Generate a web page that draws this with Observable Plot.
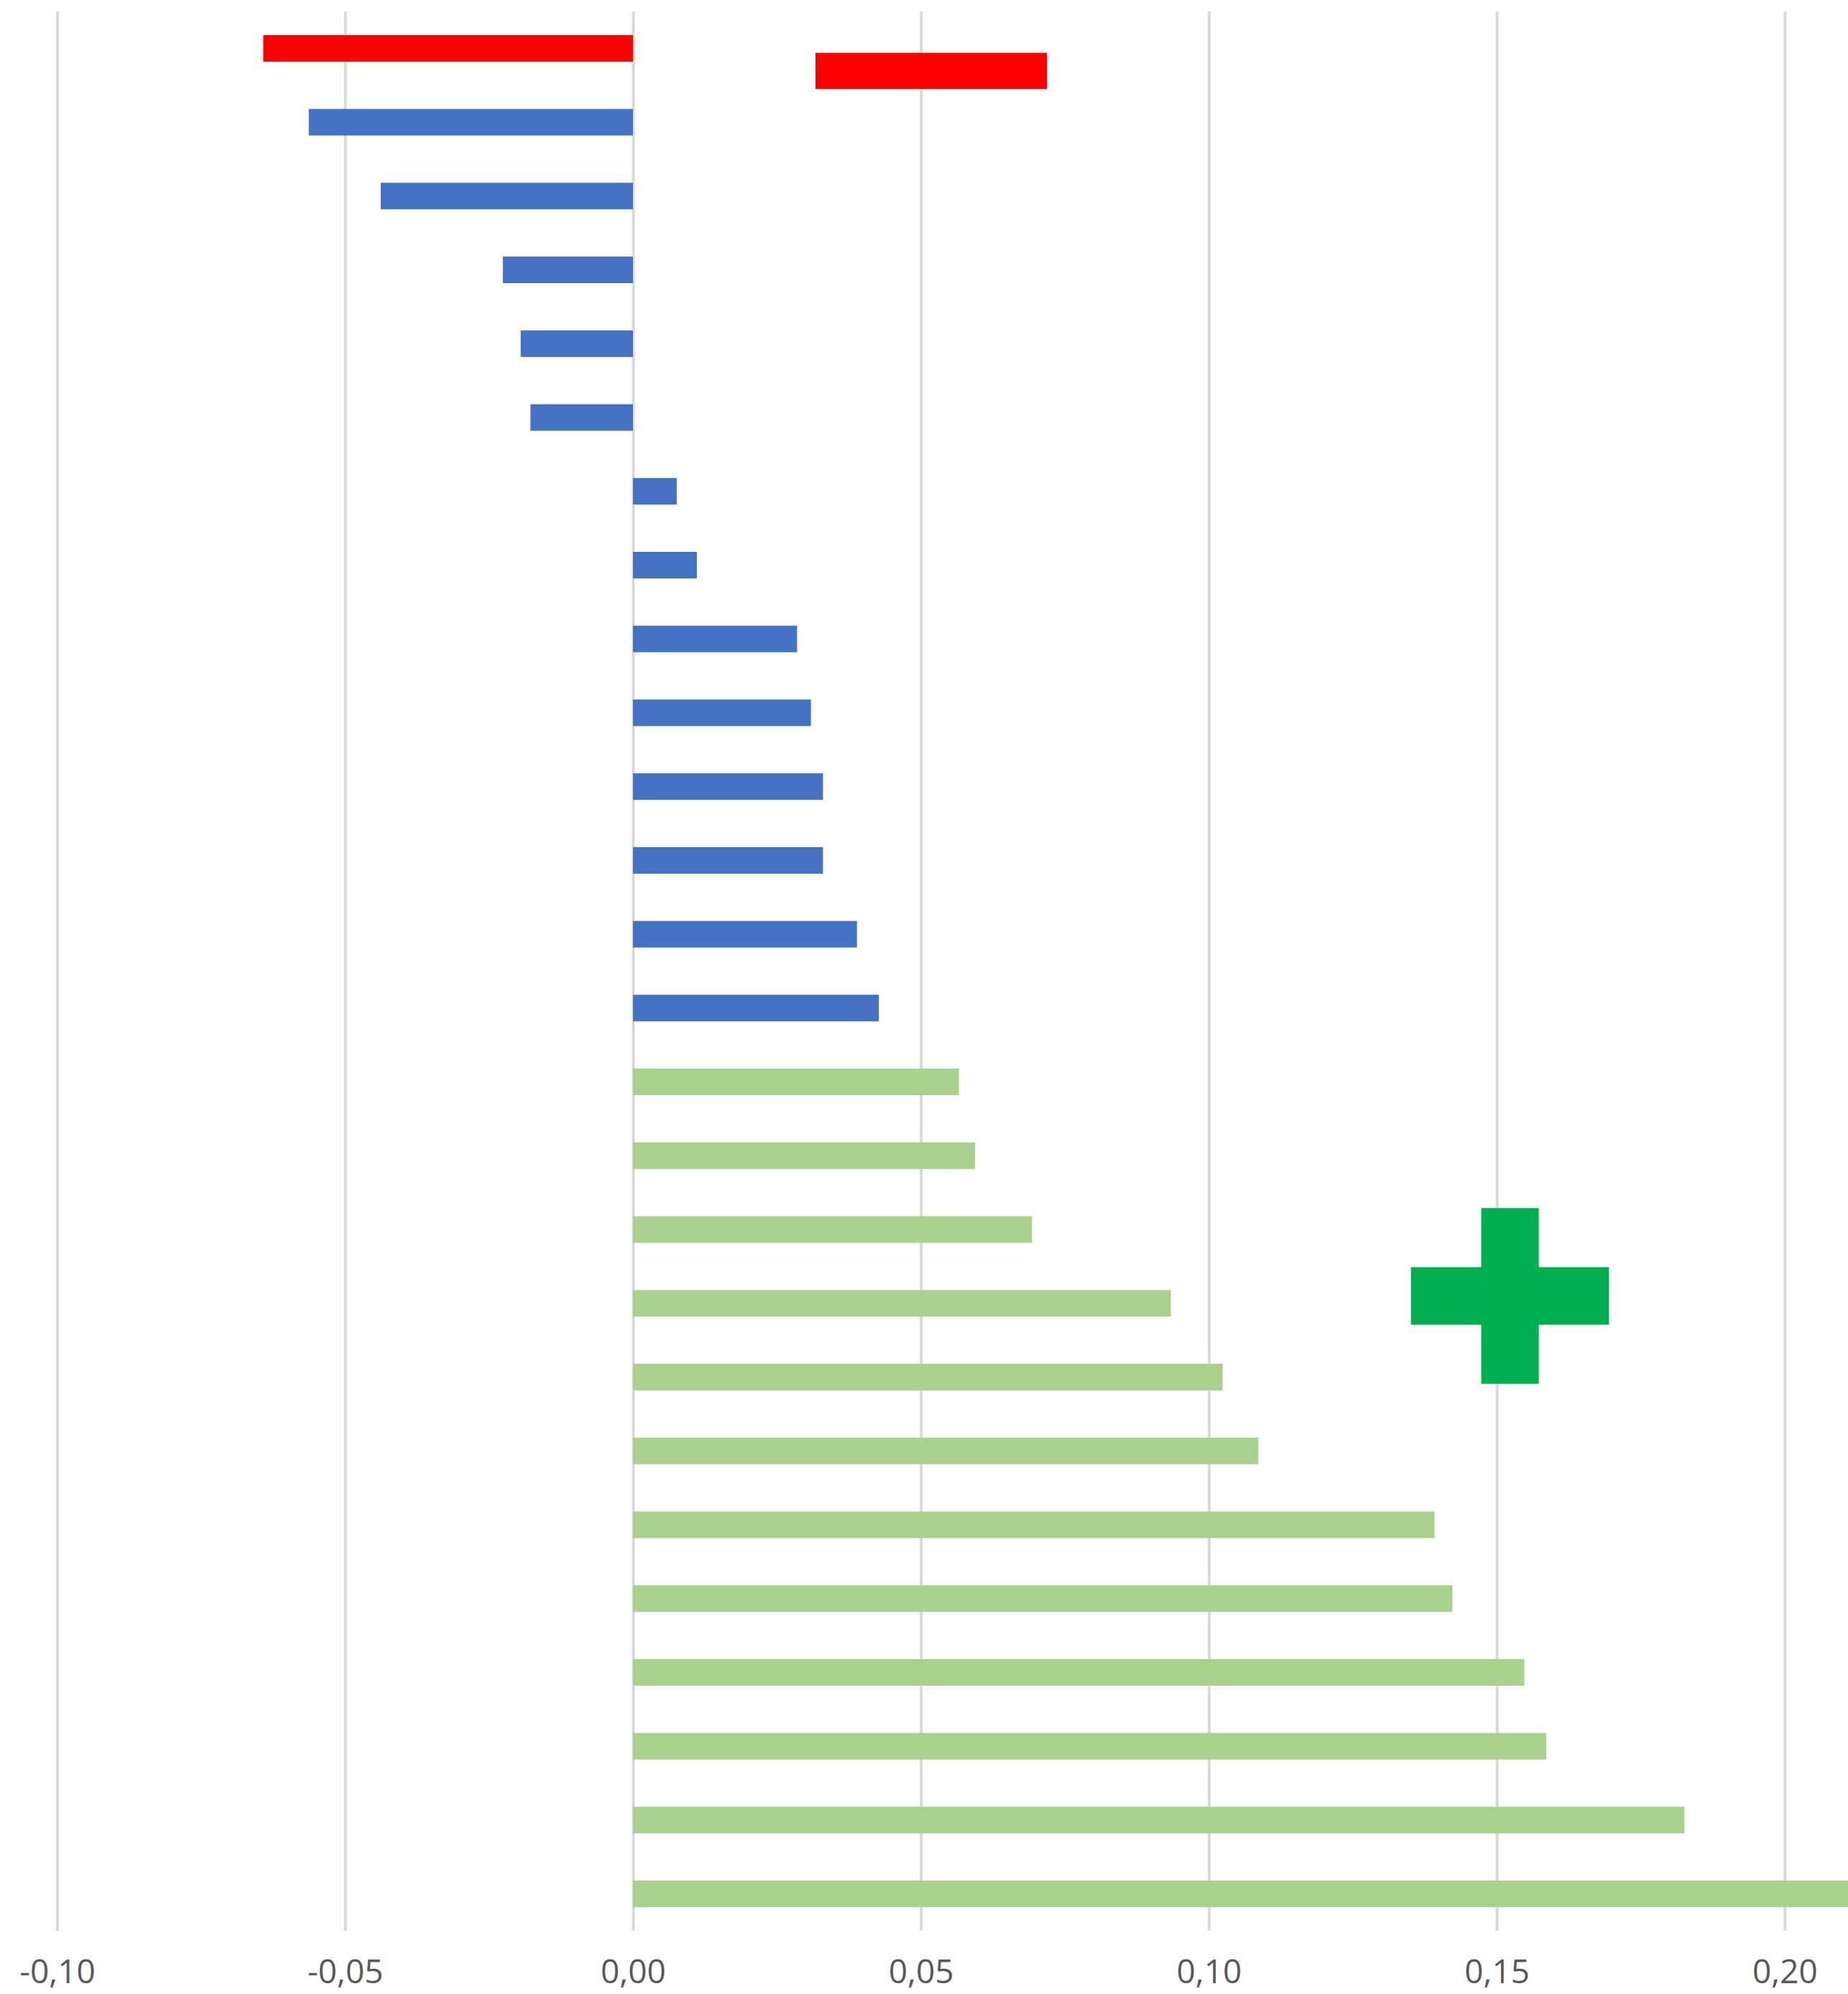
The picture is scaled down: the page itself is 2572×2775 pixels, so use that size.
<!DOCTYPE html>
<html>
<head>
<meta charset="utf-8">
<script src="https://cdn.jsdelivr.net/npm/d3@7"></script>
<script src="https://cdn.jsdelivr.net/npm/@observablehq/plot@0.6"></script>
<style>
  html, body { margin: 0; padding: 0; background: #ffffff; overflow: hidden; }
  #chart svg { overflow: hidden; display: block; }
</style>
</head>
<body>
<div id="chart"></div>
<script>
// ---- data ----
const redValues = [-0.0642];
const blueValues = [-0.0563, -0.0438, -0.0226, -0.0195, -0.0178, 0.0076, 0.0111, 0.0285, 0.0309, 0.0330, 0.0330, 0.0389, 0.0427];
const greenValues = [0.0566, 0.0594, 0.0693, 0.0934, 0.1024, 0.1086, 0.1392, 0.1423, 0.1548, 0.1586, 0.1826, 0.2150];
const xTicks = [-0.10, -0.05, 0.00, 0.05, 0.10, 0.15, 0.20];
const xTickLabels = ["-0,10", "-0,05", "0,00", "0,05", "0,10", "0,15", "0,20"];
// annotation shapes (data units: x value, y row)
const redMarker = [{x1: 0.0317, x2: 0.0719, y1: 0.06, y2: 0.55}];
const greenCross = [
  {x1: 0.1473, x2: 0.1573, y1: 15.71, y2: 18.09},
  {x1: 0.1351, x2: 0.1695, y1: 16.51, y2: 17.29}
];

const colors = {red: "#FF0000", blue: "#4472C4", green: "#A9D18E", cross: "#00B050"};

const rows = [
  ...redValues.map(v => ({value: v, group: "red"})),
  ...blueValues.map(v => ({value: v, group: "blue"})),
  ...greenValues.map(v => ({value: v, group: "green"}))
].map((d, i) => ({...d, row: i}));

const W = 2572, H = 2775;
const half = 0.18;

const chart = Plot.plot({
  width: W,
  height: H,
  marginLeft: 79.5,
  marginRight: 0,
  marginTop: 16,
  marginBottom: 88,
  style: {fontFamily: "'Open Sans', sans-serif", background: "#ffffff"},
  x: {domain: [-0.10, 0.2110], axis: null},
  y: {domain: [-0.5, rows.length - 0.5], reverse: true, axis: null},
  marks: [
    Plot.ruleX(xTicks, {stroke: "#D9D9D9", strokeWidth: 4}),
    Plot.rect(rows, {
      x1: 0,
      x2: "value",
      y1: d => d.row - half,
      y2: d => d.row + half,
      fill: d => colors[d.group]
    }),
    Plot.rect(redMarker, {x1: "x1", x2: "x2", y1: "y1", y2: "y2", fill: colors.red}),
    Plot.rect(greenCross, {x1: "x1", x2: "x2", y1: "y1", y2: "y2", fill: colors.cross}),
    Plot.axisX({
      ticks: xTicks,
      tickFormat: d => xTickLabels[xTicks.findIndex(t => Math.abs(t - d) < 1e-9)],
      tickSize: 0,
      tickPadding: 40,
      fontSize: 46,
      fill: "#595959"
    })
  ]
});

document.getElementById("chart").appendChild(chart);
</script>
</body>
</html>
